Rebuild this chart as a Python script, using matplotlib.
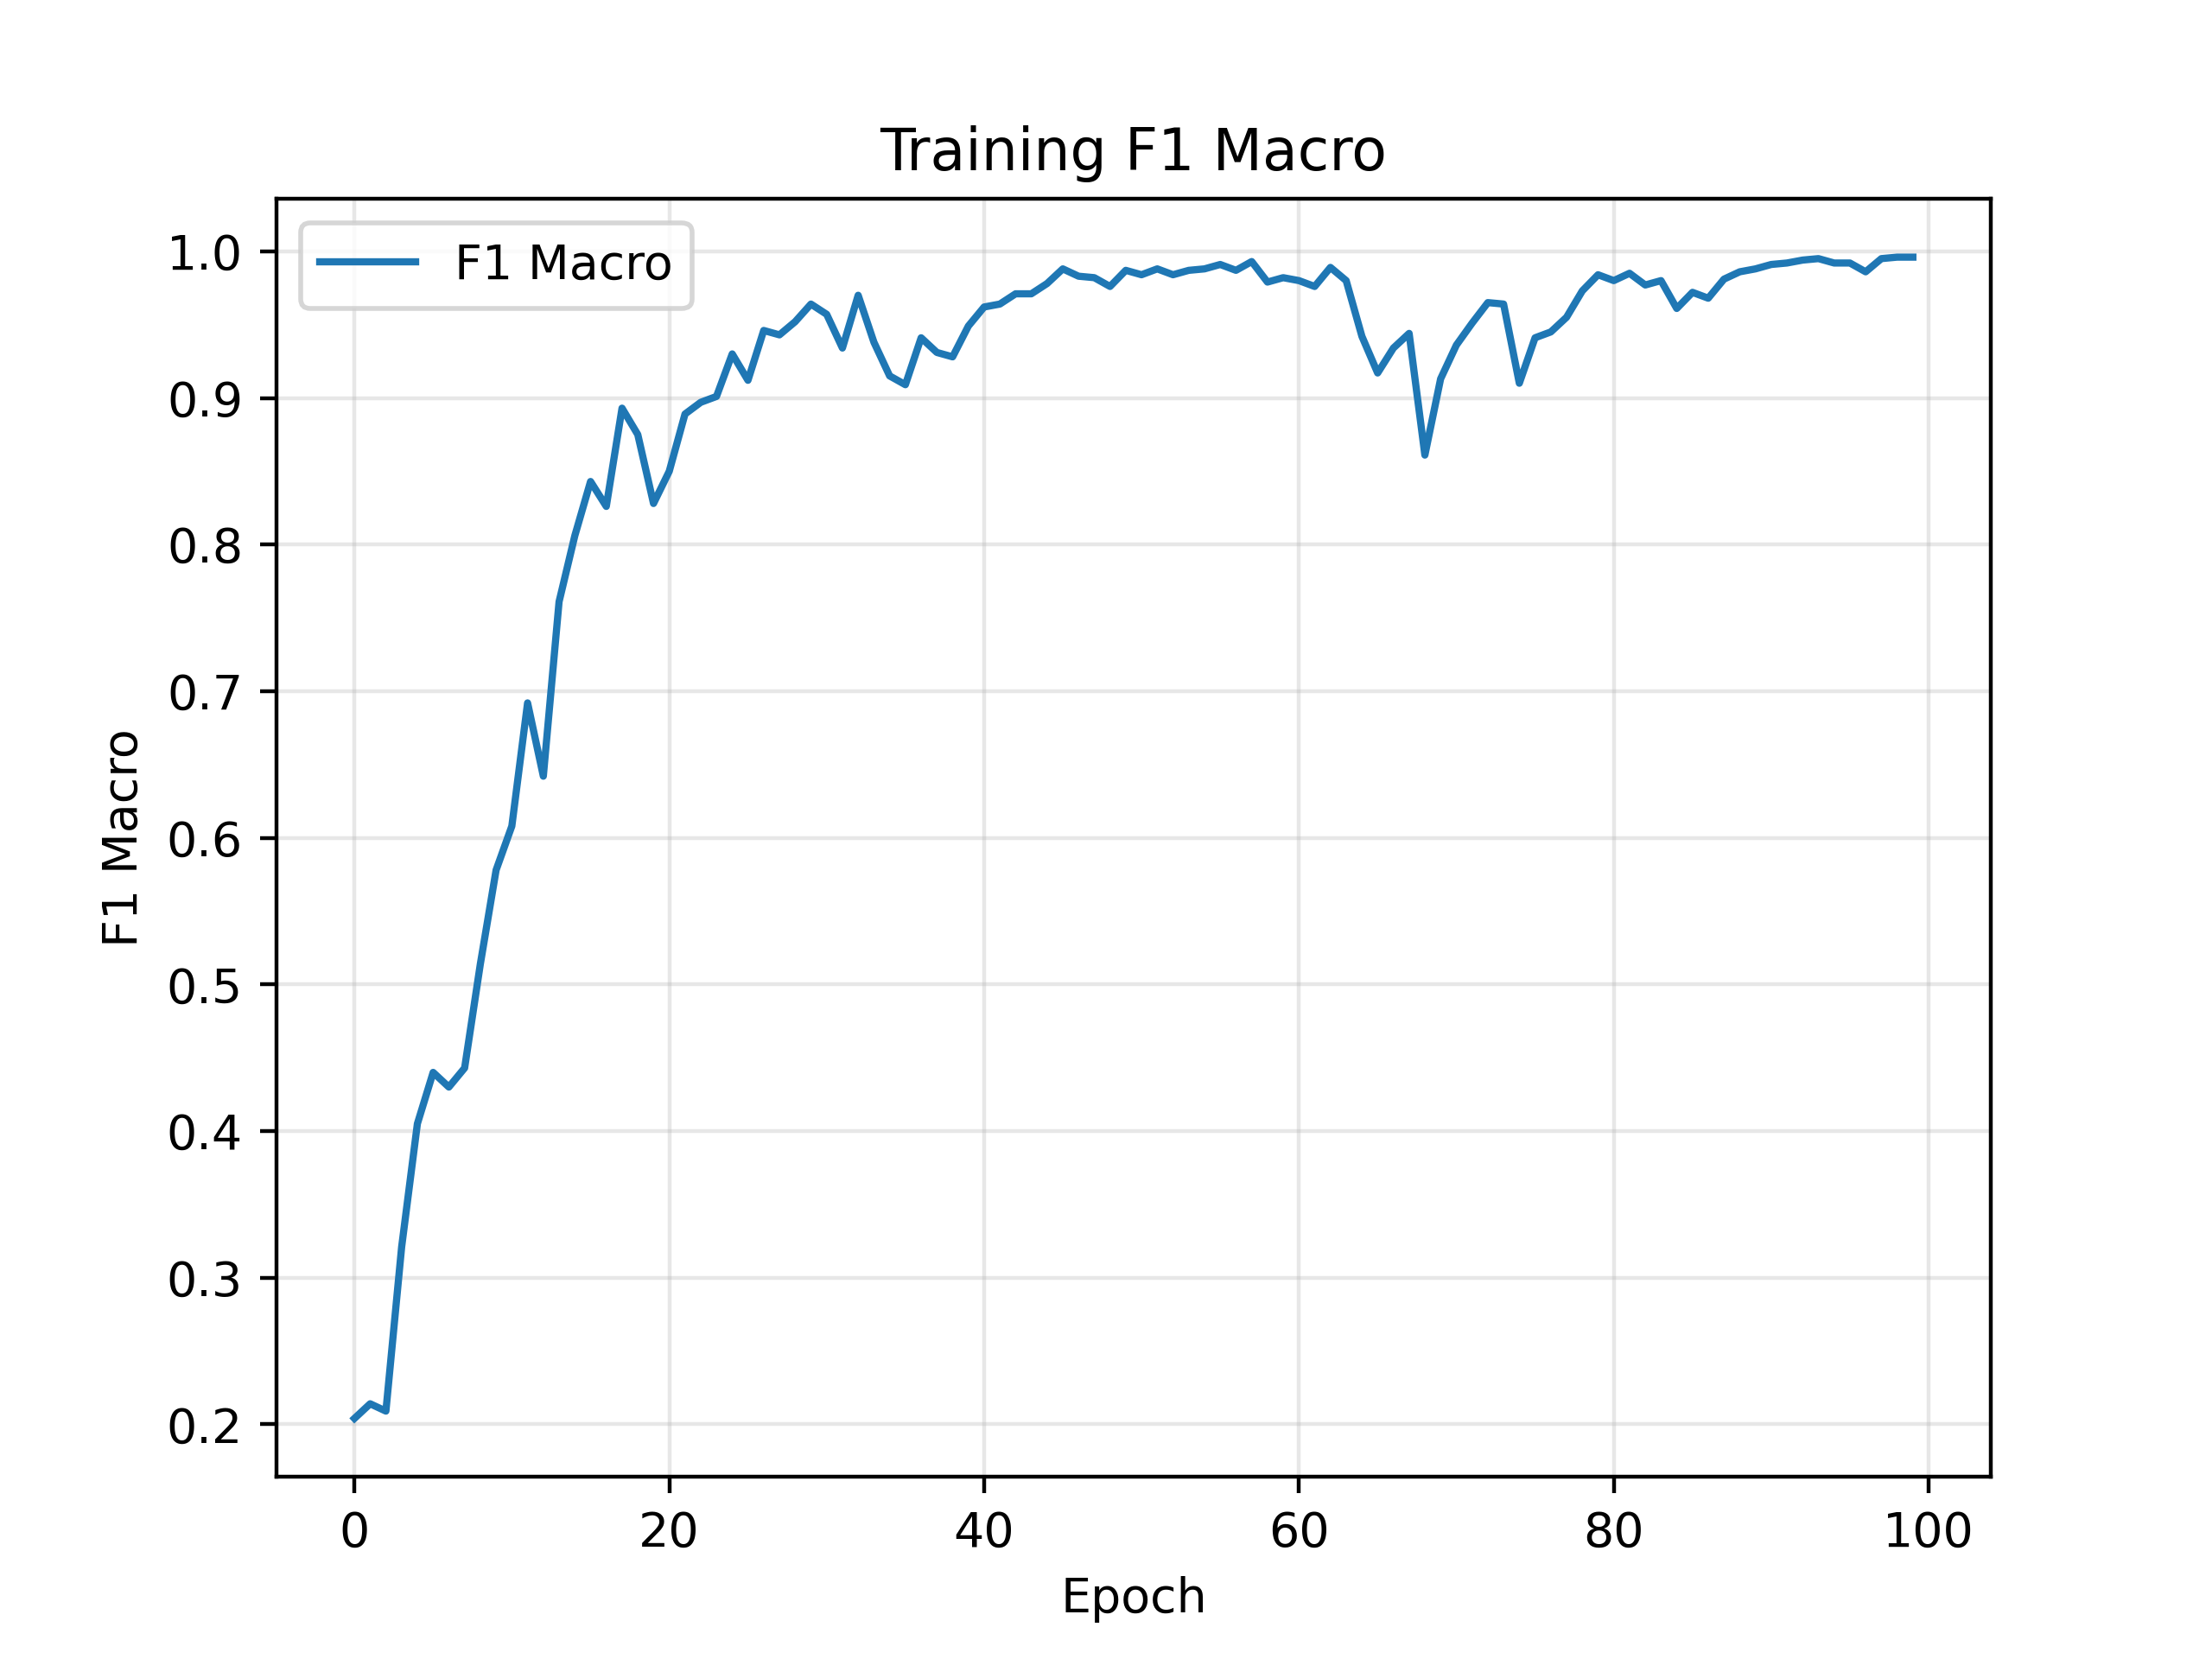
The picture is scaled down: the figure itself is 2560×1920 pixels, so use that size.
import matplotlib
matplotlib.use("Agg")
import matplotlib.pyplot as plt
import numpy as np

# F1 macro per epoch
epochs = list(range(100))
f1_macro = [
    0.204, 0.214, 0.209, 0.321, 0.405, 0.440, 0.430, 0.443, 0.514, 0.578,
    0.608, 0.692, 0.642, 0.761, 0.806, 0.843, 0.826, 0.893, 0.875, 0.828,
    0.850, 0.889, 0.897, 0.901, 0.930, 0.912, 0.946, 0.943, 0.952, 0.964,
    0.957, 0.934, 0.970, 0.938, 0.915, 0.909, 0.941, 0.931, 0.928, 0.949,
    0.962, 0.964, 0.971, 0.971, 0.978, 0.988, 0.983, 0.982, 0.976, 0.987,
    0.984, 0.988, 0.984, 0.987, 0.988, 0.991, 0.987, 0.993, 0.979, 0.982,
    0.980, 0.976, 0.989, 0.980, 0.942, 0.917, 0.934, 0.944, 0.861, 0.913,
    0.936, 0.951, 0.965, 0.964, 0.910, 0.941, 0.945, 0.955, 0.973, 0.984,
    0.980, 0.985, 0.977, 0.980, 0.961, 0.972, 0.968, 0.981, 0.986, 0.988,
    0.991, 0.992, 0.994, 0.995, 0.992, 0.992, 0.986, 0.995, 0.996, 0.996,
]

plt.figure(figsize=(6.4, 4.8), dpi=400)
plt.plot(epochs, f1_macro, label="F1 Macro")
plt.title("Training F1 Macro")
plt.xlabel("Epoch")
plt.ylabel("F1 Macro")
plt.legend(loc="upper left")
plt.grid(True, alpha=0.3)
plt.savefig("out.png", dpi=400)
